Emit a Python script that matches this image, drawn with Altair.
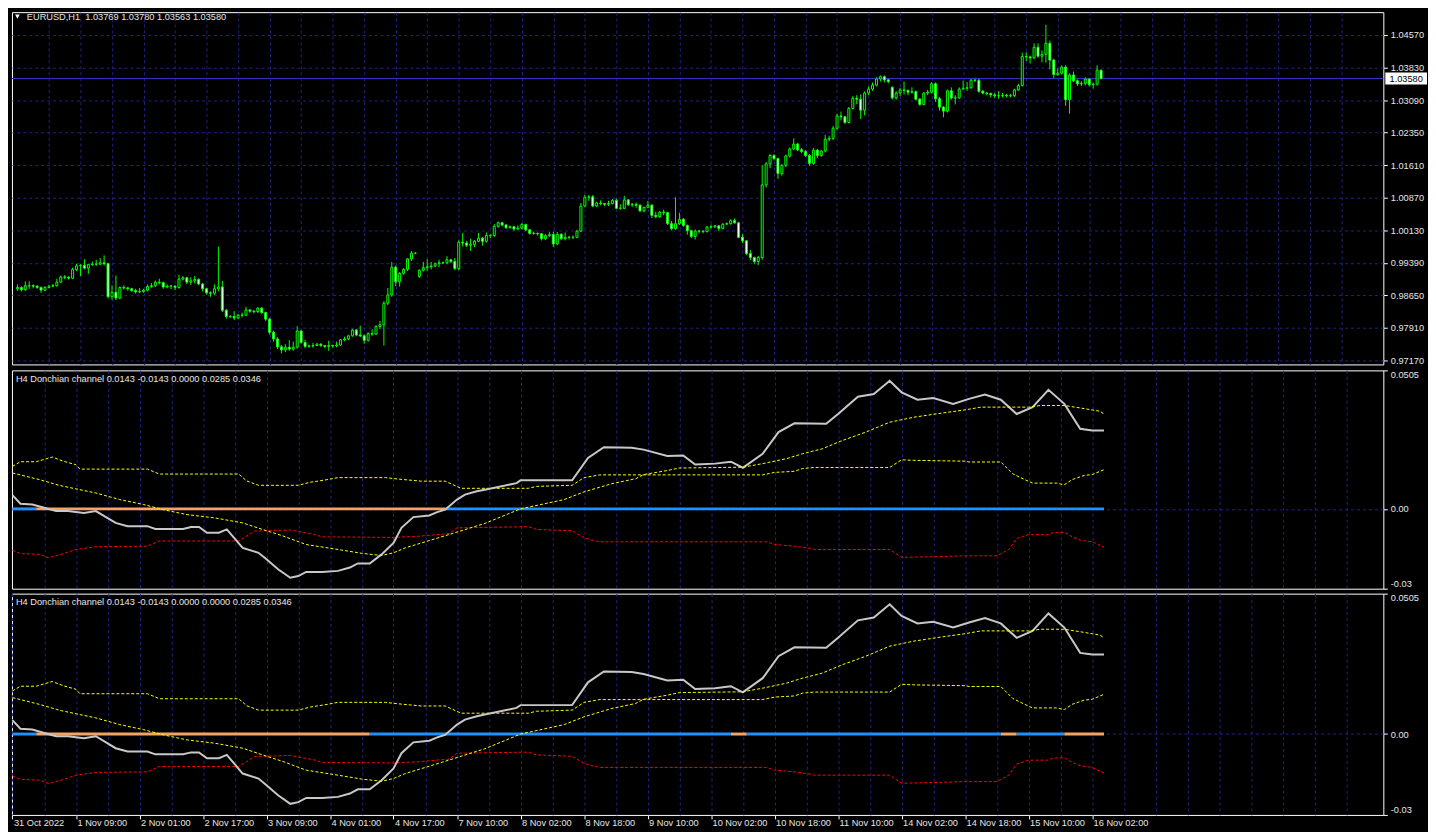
import altair as alt
import pandas as pd

# ---------------- price data (EURUSD H1, in 1/10000 units) ----------------
OPEN = [
    9880, 9883, 9878, 9887, 9887, 9886, 9883, 9877, 9883, 9886,
    9887, 9895, 9907, 9906, 9904, 9924, 9932, 9933, 9927, 9935,
    9936, 9936, 9939, 9937, 9862, 9872, 9859, 9883, 9882, 9880,
    9876, 9873, 9874, 9877, 9885, 9887, 9895, 9894, 9884, 9886,
    9886, 9883, 9902, 9905, 9895, 9898, 9901, 9891, 9880, 9871,
    9870, 9880, 9884, 9831, 9817, 9817, 9814, 9820, 9820, 9832,
    9829, 9828, 9836, 9826, 9811, 9781, 9766, 9748, 9741, 9747,
    9743, 9747, 9784, 9758, 9749, 9750, 9751, 9754, 9751, 9749,
    9751, 9750, 9752, 9764, 9766, 9773, 9786, 9775, 9773, 9763,
    9778, 9777, 9794, 9798, 9847, 9866, 9929, 9896, 9915, 9924,
    9948, 9961, 9908, 9922, 9928, 9930, 9932, 9937, 9939, 9939,
    9946, 9942, 9926, 9986, 9984, 9979, 9981, 9988, 9995, 9988,
    10001, 10001, 10022, 10030, 10025, 10019, 10021, 10016, 10018, 10026,
    10014, 10006, 10006, 10005, 9994, 10001, 10003, 9982, 10004, 9994,
    9997, 9997, 9997, 10011, 10068, 10088, 10089, 10068, 10075, 10074,
    10072, 10074, 10081, 10063, 10063, 10082, 10071, 10072, 10070, 10057,
    10065, 10070, 10047, 10044, 10054, 10053, 10028, 10017, 10028, 10038,
    10024, 10012, 9999, 10011, 10011, 10010, 10020, 10021, 10023, 10017,
    10027, 10028, 10035, 10030, 9997, 9989, 9960, 9951, 9942, 9951,
    10116, 10164, 10183, 10176, 10142, 10160, 10182, 10198, 10209, 10196,
    10192, 10183, 10165, 10195, 10183, 10193, 10220, 10222, 10245, 10273,
    10271, 10258, 10290, 10313, 10311, 10286, 10325, 10334, 10343, 10357,
    10362, 10355, 10338, 10314, 10325, 10332, 10331, 10327, 10328, 10311,
    10299, 10325, 10327, 10346, 10312, 10293, 10284, 10330, 10314, 10314,
    10334, 10336, 10337, 10354, 10354, 10329, 10325, 10324, 10321, 10319,
    10319, 10320, 10319, 10319, 10332, 10342, 10408, 10407, 10405, 10429,
    10409, 10413, 10438, 10400, 10367, 10370, 10384, 10310, 10366, 10353,
    10346, 10347, 10357, 10344, 10345, 10377,
]
HIGH = [
    9890, 9886, 9897, 9897, 9890, 9888, 9885, 9886, 9889, 9891,
    9903, 9910, 9911, 9909, 9928, 9937, 9936, 9947, 9937, 9942,
    9946, 9950, 9956, 9939, 9888, 9910, 9885, 9888, 9884, 9882,
    9880, 9882, 9880, 9890, 9893, 9899, 9903, 9896, 9890, 9889,
    9888, 9912, 9909, 9907, 9906, 9909, 9904, 9893, 9882, 9874,
    9890, 9976, 9898, 9834, 9820, 9829, 9823, 9826, 9839, 9833,
    9832, 9838, 9838, 9828, 9814, 9785, 9770, 9752, 9754, 9763,
    9760, 9795, 9786, 9764, 9753, 9757, 9757, 9756, 9752, 9762,
    9753, 9760, 9766, 9771, 9775, 9789, 9789, 9796, 9776, 9781,
    9788, 9797, 9807, 9852, 9882, 9941, 9933, 9918, 9927, 9950,
    9966, 9963, 9924, 9941, 9947, 9941, 9940, 9946, 9942, 9954,
    9948, 9950, 9990, 10007, 9989, 9994, 9991, 10007, 9998, 10008,
    10004, 10027, 10033, 10032, 10027, 10024, 10022, 10024, 10029, 10028,
    10016, 10010, 10008, 10007, 10004, 10009, 10010, 10009, 10006, 10008,
    10000, 10001, 10014, 10075, 10094, 10093, 10093, 10078, 10081, 10075,
    10080, 10084, 10085, 10072, 10091, 10084, 10075, 10076, 10072, 10067,
    10080, 10072, 10055, 10057, 10060, 10055, 10034, 10088, 10053, 10041,
    10026, 10014, 10015, 10014, 10013, 10023, 10026, 10025, 10025, 10029,
    10031, 10038, 10040, 10032, 10004, 9991, 9968, 9953, 9955, 10161,
    10168, 10186, 10186, 10178, 10164, 10185, 10201, 10222, 10212, 10200,
    10195, 10186, 10200, 10198, 10196, 10230, 10228, 10250, 10278, 10283,
    10273, 10293, 10318, 10320, 10322, 10329, 10340, 10349, 10361, 10365,
    10365, 10357, 10340, 10329, 10337, 10351, 10333, 10338, 10331, 10314,
    10327, 10332, 10350, 10349, 10316, 10295, 10333, 10338, 10320, 10338,
    10353, 10350, 10357, 10360, 10358, 10332, 10327, 10326, 10325, 10329,
    10325, 10323, 10323, 10335, 10346, 10417, 10418, 10410, 10438, 10438,
    10422, 10480, 10444, 10403, 10381, 10388, 10388, 10370, 10374, 10356,
    10352, 10361, 10359, 10349, 10388, 10378,
]
LOW = [
    9875, 9874, 9875, 9880, 9881, 9880, 9871, 9875, 9881, 9884,
    9885, 9893, 9902, 9901, 9902, 9920, 9909, 9924, 9914, 9932,
    9932, 9934, 9933, 9858, 9855, 9854, 9856, 9878, 9876, 9873,
    9869, 9870, 9871, 9874, 9882, 9884, 9890, 9880, 9881, 9879,
    9877, 9880, 9899, 9891, 9889, 9892, 9888, 9874, 9867, 9862,
    9866, 9874, 9827, 9812, 9813, 9809, 9811, 9815, 9818, 9825,
    9824, 9825, 9823, 9807, 9776, 9760, 9743, 9733, 9736, 9739,
    9739, 9744, 9755, 9745, 9746, 9746, 9750, 9748, 9745, 9739,
    9746, 9747, 9750, 9761, 9763, 9771, 9772, 9770, 9755, 9760,
    9773, 9775, 9788, 9751, 9843, 9862, 9886, 9885, 9912, 9920,
    9943, 9959, 9905, 9919, 9921, 9924, 9929, 9929, 9936, 9936,
    9938, 9922, 9922, 9976, 9975, 9966, 9975, 9986, 9978, 9985,
    9995, 9998, 10019, 10022, 10016, 10017, 10012, 10014, 10015, 10011,
    10003, 10003, 10001, 9990, 9991, 9998, 9975, 9979, 9991, 9990,
    9992, 9993, 9995, 10009, 10065, 10080, 10066, 10066, 10070, 10068,
    10068, 10072, 10061, 10060, 10061, 10068, 10066, 10064, 10055, 10054,
    10063, 10041, 10040, 10041, 10047, 10025, 10013, 10014, 10025, 10021,
    10003, 9995, 9992, 10006, 10006, 10008, 10017, 10018, 10011, 10015,
    10025, 10026, 10028, 9995, 9984, 9957, 9945, 9936, 9934, 9946,
    10110, 10154, 10172, 10130, 10137, 10157, 10178, 10195, 10193, 10188,
    10180, 10160, 10162, 10177, 10180, 10190, 10215, 10218, 10240, 10263,
    10255, 10256, 10288, 10300, 10266, 10274, 10320, 10330, 10340, 10351,
    10349, 10347, 10310, 10310, 10318, 10322, 10320, 10324, 10308, 10296,
    10297, 10320, 10324, 10305, 10285, 10270, 10281, 10310, 10299, 10312,
    10333, 10330, 10335, 10350, 10326, 10322, 10320, 10315, 10314, 10312,
    10315, 10315, 10315, 10316, 10330, 10340, 10398, 10392, 10402, 10405,
    10395, 10394, 10379, 10358, 10364, 10367, 10296, 10278, 10350, 10341,
    10341, 10342, 10340, 10335, 10342, 10356,
]
CLOSE = [
    9883, 9878, 9887, 9887, 9886, 9883, 9877, 9883, 9886, 9887,
    9895, 9907, 9906, 9904, 9924, 9932, 9933, 9927, 9935, 9936,
    9936, 9939, 9937, 9862, 9872, 9859, 9883, 9882, 9880, 9876,
    9873, 9874, 9877, 9885, 9887, 9895, 9894, 9884, 9886, 9886,
    9883, 9902, 9905, 9895, 9898, 9901, 9891, 9880, 9871, 9870,
    9880, 9884, 9831, 9817, 9817, 9814, 9820, 9820, 9832, 9829,
    9828, 9836, 9826, 9811, 9781, 9766, 9748, 9741, 9747, 9743,
    9747, 9784, 9758, 9749, 9750, 9751, 9754, 9751, 9749, 9751,
    9750, 9752, 9764, 9766, 9773, 9786, 9775, 9773, 9763, 9778,
    9777, 9794, 9798, 9847, 9866, 9929, 9896, 9915, 9924, 9948,
    9961, 9961, 9922, 9928, 9930, 9932, 9937, 9939, 9939, 9946,
    9942, 9926, 9986, 9984, 9979, 9981, 9988, 9995, 9988, 10001,
    10001, 10022, 10030, 10025, 10019, 10021, 10016, 10018, 10026, 10014,
    10006, 10006, 10005, 9994, 10001, 10003, 9982, 10004, 9994, 9997,
    9997, 9997, 10011, 10068, 10088, 10089, 10068, 10075, 10074, 10072,
    10074, 10081, 10063, 10063, 10082, 10071, 10072, 10070, 10057, 10065,
    10070, 10047, 10044, 10054, 10053, 10028, 10017, 10028, 10038, 10024,
    10012, 9999, 10011, 10011, 10010, 10020, 10021, 10023, 10017, 10027,
    10028, 10035, 10030, 9997, 9989, 9960, 9951, 9942, 9951, 10116,
    10164, 10183, 10176, 10142, 10160, 10182, 10198, 10209, 10196, 10192,
    10183, 10165, 10195, 10183, 10193, 10220, 10222, 10245, 10273, 10271,
    10258, 10290, 10313, 10311, 10286, 10325, 10334, 10343, 10357, 10362,
    10355, 10351, 10314, 10325, 10332, 10331, 10327, 10328, 10311, 10299,
    10325, 10327, 10346, 10312, 10293, 10284, 10330, 10314, 10314, 10334,
    10336, 10337, 10354, 10354, 10329, 10325, 10324, 10321, 10319, 10319,
    10320, 10319, 10319, 10332, 10342, 10408, 10407, 10405, 10429, 10409,
    10413, 10438, 10400, 10367, 10370, 10384, 10310, 10366, 10353, 10346,
    10347, 10357, 10344, 10345, 10377, 10358,
]

TIME_LABELS = [
    "31 Oct 2022", "1 Nov 09:00", "2 Nov 01:00", "2 Nov 17:00", "3 Nov 09:00",
    "4 Nov 01:00", "4 Nov 17:00", "7 Nov 10:00", "8 Nov 02:00", "8 Nov 18:00",
    "9 Nov 10:00", "10 Nov 02:00", "10 Nov 18:00", "11 Nov 10:00", "14 Nov 02:00",
    "14 Nov 18:00", "15 Nov 10:00", "16 Nov 02:00",
]
PRICE_TICKS = [0.97170, 0.97910, 0.98650, 0.99390, 1.00130, 1.00870,
               1.01610, 1.02350, 1.03090, 1.03830, 1.04570]
LAST_PRICE = [1.03580]
HEADER_MAIN = ["EURUSD,H1\u00a0 1.03769 1.03780 1.03563 1.03580"]
HEADER_IND1 = ["H4 Donchian channel 0.0143 -0.0143 0.0000 0.0285 0.0346"]
HEADER_IND2 = ["H4 Donchian channel 0.0143 -0.0143 0.0000 0.0000 0.0285 0.0346"]

# ---------------- indicator data ----------------
WHITE_BAR = [0, 2, 5, 8, 11, 14, 18, 21, 26, 29, 34, 36, 43, 45, 47, 49, 52, 54, 58, 62,
             64, 67, 70, 72, 74, 78, 82, 85, 87, 90, 93, 96, 98, 101, 105, 107, 109, 112, 114, 117,
             119, 127, 128, 141, 145, 149, 156, 159, 165, 169, 172, 177, 181, 184, 189, 193, 197, 205,
             208, 213, 217, 221, 224, 228, 232, 237, 241, 245, 249, 253, 257, 261, 265, 269, 272, 275]
WHITE_VAL = [0.0050, 0.0019, 0.0016, 0.0004, -0.0008, -0.0008, -0.0015, -0.0008, -0.0051, -0.0063,
             -0.0063, -0.0073, -0.0073, -0.0066, -0.0066, -0.0087, -0.0087, -0.0075, -0.0142, -0.0160,
             -0.0184, -0.0221, -0.0251, -0.0245, -0.0230, -0.0230, -0.0226, -0.0214, -0.0199, -0.0199,
             -0.0166, -0.0124, -0.0069, -0.0030, -0.0024, -0.0012, -0.0003, 0.0034, 0.0052, 0.0064,
             0.0070, 0.0094, 0.0104, 0.0104, 0.0186, 0.0225, 0.0223, 0.0216, 0.0193, 0.0195,
             0.0162, 0.0165, 0.0172, 0.0150, 0.0201, 0.0280, 0.0312, 0.0310,
             0.0346, 0.0409, 0.0419, 0.0467, 0.0425, 0.0398, 0.0404, 0.0383, 0.0401, 0.0417,
             0.0398, 0.0346, 0.0371, 0.0434, 0.0383, 0.0292, 0.0286, 0.0286]
SIGNAL_BAR = [0, 7, 12, 16, 21, 27, 33, 38, 44, 51, 58, 63, 68, 74, 82, 88, 93, 96, 99, 104,
              109, 113, 119, 128, 139, 144, 151, 157, 159, 165, 168, 184, 189, 195, 199, 204, 209, 215,
              221, 227, 234, 240, 244, 256, 259, 265, 269, 274, 275]
SIGNAL_VAL = [0.0131, 0.0106, 0.0085, 0.0073, 0.0058, 0.0034, 0.0016, -0.0003, -0.0021, -0.0033,
              -0.0051, -0.0075, -0.0098, -0.0130, -0.0148, -0.0162, -0.0170, -0.0160, -0.0142, -0.0120,
              -0.0098, -0.0080, -0.0053, 0.0000, 0.0034, 0.0062, 0.0092, 0.0110, 0.0125, 0.0140,
              0.0149, 0.0152, 0.0165, 0.0183, 0.0201, 0.0219, 0.0249, 0.0280,
              0.0316, 0.0334, 0.0349, 0.0361, 0.0371, 0.0371, 0.0377, 0.0377, 0.0368, 0.0356, 0.0346]
UPPER_BAR = [0, 2, 6, 10, 13, 16, 17, 34, 37, 57, 59, 62, 72, 75, 79, 82, 94, 97, 103, 109,
             113, 130, 132, 141, 144, 148, 189, 192, 197, 199, 202, 221, 224, 227, 240, 241, 249, 252,
             255, 257, 263, 265, 267, 270, 272, 275]
UPPER_VAL = [0.0155, 0.0172, 0.0172, 0.0189, 0.0173, 0.0161, 0.0145, 0.0145, 0.0127, 0.0127,
             0.0102, 0.0086, 0.0086, 0.0097, 0.0106, 0.0114, 0.0114, 0.0109, 0.0101, 0.0101,
             0.0075, 0.0075, 0.0082, 0.0086, 0.0114, 0.0124, 0.0124, 0.0133, 0.0137, 0.0147,
             0.0151, 0.0151, 0.0179, 0.0177, 0.0174, 0.0171, 0.0171, 0.0128,
             0.0107, 0.0094, 0.0094, 0.0088, 0.0107, 0.0122, 0.0125, 0.0143]
LOWER_BAR = [0, 2, 7, 9, 12, 16, 21, 34, 37, 57, 61, 70, 76, 78, 96, 102, 110, 112, 130, 132,
             141, 144, 146, 148, 190, 192, 197, 201, 202, 221, 224, 236, 240, 248, 251, 253, 256, 261,
             262, 265, 267, 269, 272, 275]
LOWER_VAL = [-0.0151, -0.0163, -0.0166, -0.0178, -0.0167, -0.0148, -0.0138, -0.0136, -0.0117, -0.0117,
             -0.0081, -0.0077, -0.0093, -0.0102, -0.0104, -0.0100, -0.0090, -0.0069, -0.0065, -0.0075,
             -0.0080, -0.0105, -0.0114, -0.0120, -0.0120, -0.0130, -0.0136, -0.0144, -0.0148, -0.0148,
             -0.0177, -0.0173, -0.0171, -0.0171, -0.0148, -0.0108, -0.0094, -0.0094,
             -0.0087, -0.0085, -0.0102, -0.0114, -0.0120, -0.0140]

ZERO1_START = [0, 6, 109]
ZERO1_END = [6, 109, 275]
ZERO1_STATE = ["up", "down", "up"]
ZERO2_START = [0, 6, 90, 181, 185, 249, 253, 265]
ZERO2_END = [6, 90, 181, 185, 249, 253, 265, 275]
ZERO2_STATE = ["up", "down", "up", "down", "up", "down", "up", "down"]

# ---------------- style ----------------
FONT = "Liberation Sans"
FS = 9.3
TXT = "#e6e6e6"
GRID = "#22228a"
LIME = "#00ff00"
W = 1382
H_MAIN = 355
H_IND1 = 220
H_IND2 = 223
X_DOMAIN = [-0.125, -0.125 + W / 4]
MANY = 500  # tick count high enough that Vega never thins the explicit values

xs = alt.Scale(domain=X_DOMAIN, nice=False, zero=False)
GRID_VALUES = list(range(8, 344, 8))
AXIS_VALUES = list(range(0, 344, 8))
N_LAB = str(len(TIME_LABELS))

x_axis_grid = alt.Axis(values=GRID_VALUES, tickCount=MANY, grid=True, gridColor=GRID, gridDash=[3, 3],
                       labels=False, ticks=False, domain=False, title=None)
lab_js = "[" + ",".join("'" + s + "'" for s in TIME_LABELS) + "]"
cond_lab = "datum.value % 16 === 0 && datum.value / 16 < " + N_LAB
x_axis_bottom = alt.Axis(
    values=AXIS_VALUES, tickCount=MANY, grid=True, gridColor=GRID, gridDash=[3, 3], domain=False,
    title=None,
    tickColor={"condition": {"test": cond_lab, "value": "#ffffff"}, "value": "rgba(0,0,0,0)"},
    tickSize=4,
    labelExpr="(" + cond_lab + ") ? " + lab_js + "[datum.value / 16] : ''",
    labelAlign="left", labelPadding=0, labelOverlap=False, labelFlush=False, labelOffset=1,
)

# ---------------- main price pane ----------------
candles = pd.DataFrame({
    "bar": list(range(len(CLOSE))),
    "o": [v / 10000 for v in OPEN],
    "h": [v / 10000 for v in HIGH],
    "l": [v / 10000 for v in LOW],
    "c": [v / 10000 for v in CLOSE],
})
ys_main = alt.Scale(domain=[0.97080, 1.05089], nice=False, zero=False)
y_axis_main = alt.Axis(orient="right", values=PRICE_TICKS, tickCount=MANY, format=".5f", grid=True,
                       gridColor=GRID, gridDash=[3, 3], tickColor="#ffffff", tickSize=4,
                       domain=False, labelPadding=3, labelOverlap=False, title=None)

# only one layer per pane carries the axis definitions; the others leave "axis" unset
wicks = alt.Chart(candles).mark_rule(color=LIME, strokeWidth=1).encode(
    x=alt.X("bar:Q", scale=xs, axis=x_axis_grid),
    y=alt.Y("l:Q", scale=ys_main, axis=y_axis_main),
    y2="h:Q",
)
bodies = alt.Chart(candles).mark_bar(size=2, stroke=LIME, strokeWidth=1).encode(
    x=alt.X("bar:Q", scale=xs),
    y=alt.Y("o:Q", scale=ys_main),
    y2="c:Q",
    fill=alt.condition("datum.c >= datum.o", alt.value("black"), alt.value("white")),
)
last_df = pd.DataFrame({"p": LAST_PRICE, "t": ["%.5f" % LAST_PRICE[0]]})
bid_line = alt.Chart(last_df).mark_rule(color="#3434c8", strokeWidth=1).encode(
    y=alt.Y("p:Q", scale=ys_main)
)
price_box = alt.Chart(last_df).mark_point(
    shape="M-3.5,-1H3.5V1H-3.5Z", filled=True, color="#ffffff", opacity=1, size=144, strokeWidth=0
).encode(x=alt.value(W + 23), y=alt.Y("p:Q", scale=ys_main))
price_txt = alt.Chart(last_df).mark_text(
    color="#000000", font=FONT, fontSize=FS, align="center", baseline="middle"
).encode(x=alt.value(W + 23), y=alt.Y("p:Q", scale=ys_main), text="t:N")

hdr_main = alt.Chart(pd.DataFrame({"t": HEADER_MAIN})).mark_text(
    color=TXT, font=FONT, fontSize=FS, align="left", baseline="middle"
).encode(x=alt.value(15), y=alt.value(5), text="t:N")
tri = alt.Chart(pd.DataFrame({"t": HEADER_MAIN})).mark_point(
    shape="triangle-down", filled=True, color="#ffffff", opacity=1, size=22
).encode(x=alt.value(5.5), y=alt.value(4.5))

main = alt.layer(wicks, bid_line, bodies, hdr_main, tri, price_box, price_txt).properties(
    width=W, height=H_MAIN
)

# ---------------- indicator panes ----------------
white_df = pd.DataFrame({"bar": WHITE_BAR, "v": WHITE_VAL})
sig_df = pd.DataFrame({"bar": SIGNAL_BAR, "v": SIGNAL_VAL})
up_df = pd.DataFrame({"bar": UPPER_BAR, "v": UPPER_VAL})
lo_df = pd.DataFrame({"bar": LOWER_BAR, "v": LOWER_VAL})
IND_MIN, IND_MAX = -0.0291, 0.0505


def ind_pane(starts, ends, states, header, height, bottom):
    ys = alt.Scale(domain=[IND_MIN, IND_MAX], nice=False, zero=False)
    yax = alt.Axis(
        orient="right", values=[IND_MIN, 0, IND_MAX], tickCount=MANY,
        labelExpr="datum.value > 0.04 ? '0.0505' : (datum.value < -0.02 ? '-0.03' : '0.00')",
        labelFlush=True, grid=True,
        gridColor={"condition": {"test": "datum.value === 0", "value": GRID}, "value": "rgba(0,0,0,0)"},
        gridDash=[3, 3], tickColor="#ffffff", tickSize=4, domain=False, labelPadding=3,
        labelOverlap=False, title=None,
    )
    xax = x_axis_bottom if bottom else x_axis_grid
    up = alt.Chart(up_df).mark_line(color="#ffff00", strokeWidth=1, strokeDash=[3, 2]).encode(
        x=alt.X("bar:Q", scale=xs, axis=xax), y=alt.Y("v:Q", scale=ys, axis=yax)
    )
    dn = alt.Chart(lo_df).mark_line(color="#ff0000", strokeWidth=1, strokeDash=[3, 2]).encode(
        x=alt.X("bar:Q", scale=xs), y=alt.Y("v:Q", scale=ys)
    )
    zdf = pd.DataFrame({"s": starts, "e": ends, "state": states})
    zero = alt.Chart(zdf).mark_rule(strokeWidth=3).encode(
        x=alt.X("s:Q", scale=xs), x2="e:Q",
        y=alt.datum(0),
        color=alt.Color("state:N", scale=alt.Scale(domain=["up", "down"], range=["#1e90ff", "#f4a460"]),
                        legend=None),
    )
    wl = alt.Chart(white_df).mark_line(color="#c8c8c8", strokeWidth=2).encode(
        x=alt.X("bar:Q", scale=xs), y=alt.Y("v:Q", scale=ys)
    )
    sg = alt.Chart(sig_df).mark_line(color="#ffff00", strokeWidth=1, strokeDash=[3, 2]).encode(
        x=alt.X("bar:Q", scale=xs), y=alt.Y("v:Q", scale=ys)
    )
    hdr = alt.Chart(pd.DataFrame({"t": header})).mark_text(
        color=TXT, font=FONT, fontSize=FS, align="left", baseline="middle"
    ).encode(x=alt.value(4), y=alt.value(8.5), text="t:N")
    return alt.layer(up, dn, zero, wl, sg, hdr).properties(width=W, height=height)


ind1 = ind_pane(ZERO1_START, ZERO1_END, ZERO1_STATE, HEADER_IND1, H_IND1, False)
ind2 = ind_pane(ZERO2_START, ZERO2_END, ZERO2_STATE, HEADER_IND2, H_IND2, True)

chart = alt.vconcat(main, ind1, ind2, spacing=3).resolve_scale(
    x="independent", y="independent", color="independent"
).properties(padding=0).configure(background="#000000").configure_view(
    stroke="#ffffff", strokeWidth=1, fill="#000000"
).configure_axis(
    labelFont=FONT, labelFontSize=FS, labelColor=TXT
)

chart.save("out.html", embed_options={"renderer": "svg", "actions": False})
